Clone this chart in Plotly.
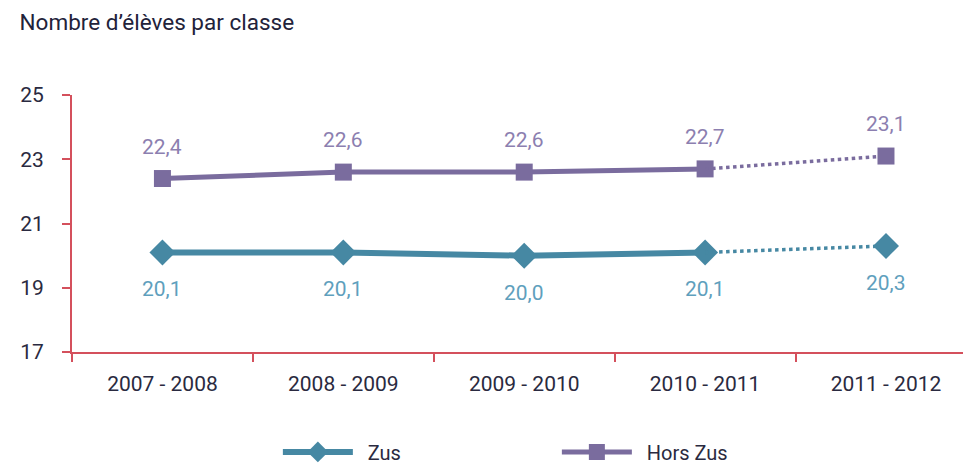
import plotly.graph_objects as go

categories = ["2007 - 2008", "2008 - 2009", "2009 - 2010", "2010 - 2011", "2011 - 2012"]
zus = [20.1, 20.1, 20.0, 20.1, 20.3]
hors_zus = [22.4, 22.6, 22.6, 22.7, 23.1]
y_ticks = [17, 19, 21, 23, 25]

ZUS_C = "#4688a3"
HORS_C = "#7a6c9e"
ZUS_T = "#5f9fbd"
HORS_T = "#8c7fb0"
AXIS_C = "#d4505c"
TXT_C = "#2a2a40"
FONT = "Roboto, Liberation Sans, sans-serif"

def fmt(v):
    return f"{v:.1f}".replace(".", ",")

fig = go.Figure()
split = 3
annotations = []

series = [
    ("Zus", zus, ZUS_C, ZUS_T, "diamond", 20, 6, -37),
    ("Hors Zus", hors_zus, HORS_C, HORS_T, "square", 17, 5, 32),
]
for name, vals, c, tc, sym, ms, lw, shift in series:
    # solid part
    fig.add_trace(go.Scatter(
        x=categories[:split + 1], y=vals[:split + 1], mode="lines+markers",
        name="\u00a0\u00a0" + name, legendgroup=name,
        line=dict(color=c, width=lw),
        marker=dict(symbol=sym, size=ms, color=c),
    ))
    # dotted projection
    fig.add_trace(go.Scatter(
        x=categories[split:], y=vals[split:], mode="lines",
        name=name, legendgroup=name, showlegend=False,
        line=dict(color=c, width=3.5, dash="dot"),
    ))
    # projected marker
    fig.add_trace(go.Scatter(
        x=categories[split + 1:], y=vals[split + 1:], mode="markers",
        name=name, legendgroup=name, showlegend=False,
        marker=dict(symbol=sym, size=ms, color=c),
    ))
    for cat, v in zip(categories, vals):
        annotations.append(dict(
            x=cat, y=v, text=fmt(v), showarrow=False, yshift=shift,
            font=dict(family=FONT, size=21, color=tc),
        ))

fig.update_layout(
    width=963, height=457,
    margin=dict(l=64, r=0, t=87, b=113, autoexpand=False),
    plot_bgcolor="white", paper_bgcolor="white",
    font=dict(family=FONT, color=TXT_C),
    title=dict(text="Nombre d’élèves par classe", x=0.012, xanchor="left",
               y=0.968, yanchor="middle",
               font=dict(family=FONT, size=22.5, color="#22223a")),
    annotations=annotations,
    xaxis=dict(
        type="category", range=[-0.5, 4.47],
        showline=True, linecolor=AXIS_C, linewidth=2,
        ticks="outside", tickcolor=AXIS_C, ticklen=8, tickwidth=1.5,
        tickson="boundaries", showgrid=False,
        tickfont=dict(family=FONT, size=21, color=TXT_C),
        ticklabelstandoff=12,
    ),
    yaxis=dict(
        range=[17, 25], tickvals=y_ticks,
        showline=True, linecolor=AXIS_C, linewidth=2,
        ticks="outside", tickcolor=AXIS_C, ticklen=8, tickwidth=1.5,
        showgrid=False, zeroline=False,
        tickfont=dict(family=FONT, size=21, color=TXT_C),
        ticklabelstandoff=14,
    ),
    showlegend=True,
    legend=dict(orientation="h", x=0.229, xanchor="left", y=-0.389, yanchor="middle",
                itemwidth=70, font=dict(family=FONT, size=20, color=TXT_C),
                tracegroupgap=0, entrywidth=194),
)

fig.write_html("out.html")
